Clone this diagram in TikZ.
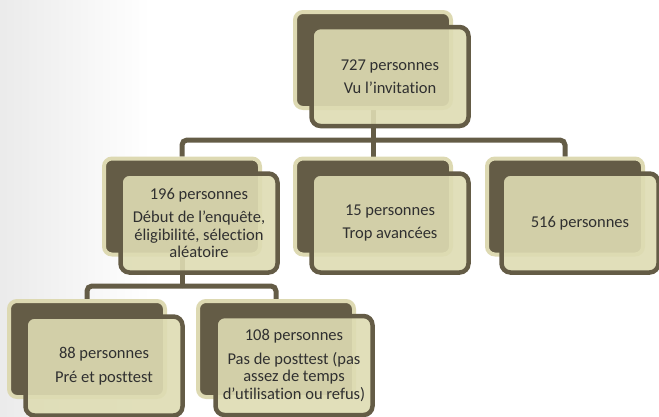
\documentclass[tikz,border=0pt]{standalone}
\usepackage{fontspec}
\setmainfont{Carlito}[Ligatures={NoCommon}]
\usetikzlibrary{positioning}
\definecolor{BoxDark}{RGB}{100,92,70}
\definecolor{BoxLight}{RGB}{221,217,178}
\definecolor{BoxFace}{RGB}{222,220,179}
\definecolor{InkGray}{RGB}{48,48,48}
\pgfdeclarelayer{bg}
\pgfsetlayers{bg,main}

\begin{document}
\begin{tikzpicture}[x=1pt, y=-1pt,
    backbox/.style={draw=BoxLight, line width=4pt, fill=BoxDark, rounded corners=8pt,
        minimum width=156pt, minimum height=96pt},
    frontbox/.style={draw=BoxDark, line width=4.5pt, fill=BoxFace, fill opacity=0.9, text opacity=1,
        rounded corners=9pt, minimum width=157pt, minimum height=99pt, text=InkGray, align=center,
        font=\fontsize{16.5pt}{17.5pt}\selectfont},
    link/.style={draw=BoxDark, line width=5pt, rounded corners=5pt}]
    \useasboundingbox (0,0) rectangle (659,416);

    % Top level: invitation
    \node[backbox] (invitB) at (373,60) {};
    \node[frontbox] (invit) at (390,76.5) {727 personnes\\[5pt]Vu l’invitation};

    % Second level
    \node[backbox] (debutB) at (182,206.5) {};
    \node[frontbox] (debut) at (199,223) {196 personnes\\[6pt]Début de l’enquête,\\éligibilité, sélection\\aléatoire};
    \node[backbox] (avanceB) at (373,206.5) {};
    \node[frontbox] (avance) at (390,223) {15 personnes\\[6pt]Trop avancées};
    \node[backbox] (resteB) at (565,206.5) {};
    \node[frontbox] (reste) at (580,223) {516 personnes};

    % Third level
    \node[backbox] (prepostB) at (87,349) {};
    \node[frontbox] (prepost) at (104,366) {88 personnes\\[6pt]Pré et posttest};
    \node[backbox] (sanspostB) at (276,349) {};
    \node[frontbox] (sanspost) at (294,365.5) {108 personnes\\[6pt]Pas de posttest (pas\\assez de temps\\d’utilisation ou refus)};

    \begin{pgfonlayer}{bg}
        % Background shade
        \fill[left color=black!8, right color=white] (0,0) rectangle (150,416);

        % Connectors, top to second level
        \coordinate (barA) at (373,140);
        \draw[link] (invitB.south) -- (barA);
        \draw[link] (barA) -| (debutB.north);
        \draw[link] (barA) -| (avanceB.north);
        \draw[link] (barA) -| (resteB.north);

        % Connectors, second to third level
        \coordinate (barB) at (182,286);
        \draw[link] (debutB.south) -- (barB);
        \draw[link] (barB) -| (prepostB.north);
        \draw[link] (barB) -| (sanspostB.north);
    \end{pgfonlayer}
\end{tikzpicture}
\end{document}
